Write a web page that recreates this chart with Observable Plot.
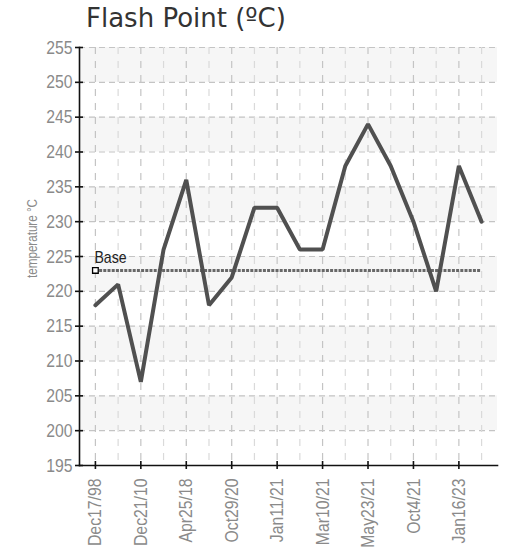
<!DOCTYPE html>
<html>
<head>
<meta charset="utf-8">
<script src="https://cdn.jsdelivr.net/npm/d3@7"></script>
<script src="https://cdn.jsdelivr.net/npm/@observablehq/plot@0.6"></script>
<style>
  html, body { margin: 0; padding: 0; background: #fff; }
  #wrap { position: relative; width: 508px; height: 549px; overflow: hidden; }
  #title { position: absolute; left: 86px; top: 3px; font-family: "DejaVu Sans", Verdana, sans-serif; font-size: 26px; line-height: 30px; color: #333; white-space: nowrap; }
  #chart { position: absolute; left: 0; top: 0; }
</style>
</head>
<body>
<div id="wrap">
  <div id="chart"></div>
  <div id="title">Flash Point (ºC)</div>
</div>
<script>
const titleText = "Flash Point (ºC)";
const yLabel = "temperature °C";
const xLabels = ["Dec17/98", "Dec21/10", "Apr25/18", "Oct29/20", "Jan11/21", "Mar10/21", "May23/21", "Oct4/21", "Jan16/23"];
const values = [218, 221, 207, 226, 236, 218, 222, 232, 232, 226, 226, 238, 244, 238, 230, 220, 238, 230];
const baseValue = 223;
const baseLabel = "Base";
const yTicks = [195, 200, 205, 210, 215, 220, 225, 230, 235, 240, 245, 250, 255];

const idx = d3.range(values.length);
const labeledIdx = idx.filter(i => i % 2 === 0);
const unlabeledIdx = idx.filter(i => i % 2 === 1);
const data = idx.map(i => ({i, v: values[i]}));
const bandStarts = yTicks.filter((t, k) => k % 2 === 1 && t < 255);

const font = "'Liberation Sans', Arial, sans-serif";

const chart = Plot.plot({
  width: 508,
  height: 549,
  marginTop: 47,
  marginBottom: 84,
  marginLeft: 79,
  marginRight: 11,
  style: { fontFamily: font, background: "transparent", overflow: "visible" },
  x: { type: "point", domain: idx, padding: 0.7, round: false },
  y: { domain: [195, 255] },
  marks: [
    Plot.rectY(bandStarts, { y1: d => d, y2: d => d + 5, fill: "#f6f6f6" }),
    Plot.gridY(yTicks.slice(1), { stroke: "#c4c4c4", strokeOpacity: 1, strokeDasharray: "6,4", strokeWidth: 1.2 }),
    Plot.gridX(labeledIdx, { stroke: "#c4c4c4", strokeOpacity: 1, strokeDasharray: "7,7", strokeWidth: 1.2 }),
    Plot.gridX(unlabeledIdx, { stroke: "#dadada", strokeOpacity: 1, strokeDasharray: "7,7", strokeWidth: 1.2 }),
    Plot.ruleY([baseValue], { x1: () => idx[0], x2: () => idx[idx.length - 1], stroke: "#686868", strokeWidth: 3, strokeDasharray: "3,1.2" }),
    Plot.line(data, { x: "i", y: "v", stroke: "#505050", strokeWidth: 4, strokeLinejoin: "miter" }),
    Plot.dot([baseValue], { x: () => idx[0], y: d => d, symbol: "square", r: 3.2, fill: "#fff", stroke: "#000", strokeWidth: 1.3 }),
    Plot.text([baseLabel], { x: () => idx[0], y: () => baseValue, text: d => d, dx: -1, dy: -13, textAnchor: "start", fontSize: 17, fill: "#222", ariaLabel: "base-label" }),
    Plot.frame({ anchor: "left", stroke: "#111", strokeWidth: 1.6 }),
    Plot.frame({ anchor: "bottom", stroke: "#111", strokeWidth: 1.6 }),
    Plot.axisY(yTicks, { tickSize: 8, dx: 4, tickFormat: () => "", label: null, stroke: "#111", strokeWidth: 1.6 }),
    Plot.axisY(yTicks, { tickSize: 0, tickPadding: 7, tickFormat: d => String(d), label: null, fontSize: 19, fill: "#8a8a8a" }),
    Plot.axisX(labeledIdx, { tickSize: 8, dy: -4, tickFormat: () => "", label: null, stroke: "#111", strokeWidth: 1.6 }),
    Plot.axisX(labeledIdx, { tickSize: 0, tickPadding: 13, tickRotate: -90, tickFormat: i => xLabels[i / 2], label: null, fontSize: 19, fill: "#8a8a8a" }),
    Plot.text([yLabel], { frameAnchor: "left", dx: -47, dy: -18, rotate: -90, textAnchor: "middle", text: d => d, fontSize: 14, fill: "#8a8a8a", ariaLabel: "y-label" })
  ]
});
document.getElementById("chart").appendChild(chart);
document.getElementById("title").textContent = titleText;

// narrow the sans-serif glyphs to imitate a condensed face
chart.querySelectorAll("text").forEach(t => {
  const len = t.getComputedTextLength();
  if (!len) return;
  const inBase = t.closest("[aria-label='base-label']");
  const f = inBase ? 0.9 : 0.83;
  t.setAttribute("textLength", (len * f).toFixed(2));
  t.setAttribute("lengthAdjust", "spacingAndGlyphs");
});
</script>
</body>
</html>
